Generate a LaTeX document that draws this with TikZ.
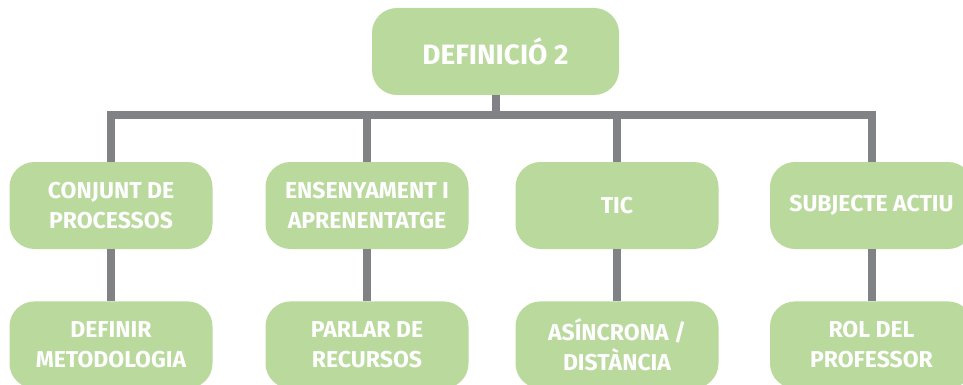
\documentclass[tikz,border=0pt]{standalone}
\usepackage{fontspec}
\setmainfont{Fira Sans}
\usetikzlibrary{positioning}
\definecolor{leafgreen}{RGB}{185,217,157}
\definecolor{stemgray}{RGB}{128,130,133}

\begin{document}
\begin{tikzpicture}[x=1pt, y=-1pt,
    box/.style={fill=leafgreen, rounded corners=25pt, minimum width=203pt,
      minimum height=87pt, align=center, text=white, inner sep=0pt,
      font=\bfseries\fontsize{23}{30}\selectfont},
    topbox/.style={box, minimum width=247pt, font=\bfseries\fontsize{28}{30}\selectfont},
    conn/.style={draw=stemgray, line width=8pt}]

  \useasboundingbox (0,0) rectangle (963,385);

  % Define nodes
  \node[topbox]                   (def)  at (495.5,51.5) {DEFINICIÓ 2};
  \node[box]                      (proc) at (111,205.5)  {CONJUNT DE\\PROCESSOS};
  \node[box]                      (ens)  at (367,205.5)  {ENSENYAMENT I\\APRENENTATGE};
  \node[box]                      (tic)  at (617,205.5)  {TIC};
  \node[box]                      (subj) at (871.5,205.5) {SUBJECTE ACTIU};
  \node[box, below=52pt of proc]  (met)  {DEFINIR\\METODOLOGIA};
  \node[box, below=52pt of ens]   (rec)  {PARLAR DE\\RECURSOS};
  \node[box, below=52pt of tic]   (dist) {ASÍNCRONA /\\DISTÀNCIA};
  \node[box, below=52pt of subj]  (rol)  {ROL DEL\\PROFESSOR};
  \coordinate (bus) at (0,115);

  % Connect the nodes
  \draw[conn] (proc.north) -- (proc.north |- bus) -- (subj.north |- bus) -- (subj.north);
  \draw[conn] (def.south) -- (def.south |- bus);
  \draw[conn] (ens.north) -- (ens.north |- bus);
  \draw[conn] (tic.north) -- (tic.north |- bus);
  \draw[conn] (proc) -- (met);
  \draw[conn] (ens) -- (rec);
  \draw[conn] (tic) -- (dist);
  \draw[conn] (subj) -- (rol);

\end{tikzpicture}
\end{document}
